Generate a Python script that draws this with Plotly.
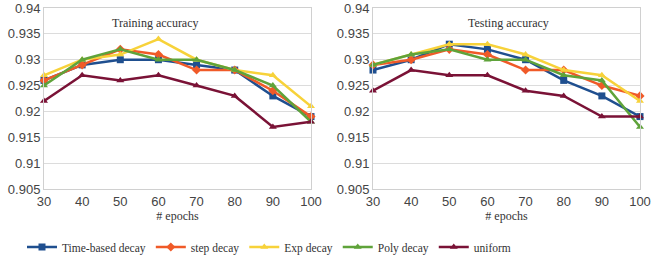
import plotly.graph_objects as go

epochs = [30, 40, 50, 60, 70, 80, 90, 100]
series_names = ["Time-based decay", "step decay", "Exp decay", "Poly decay", "uniform"]

train_time = [0.926, 0.929, 0.930, 0.930, 0.929, 0.928, 0.923, 0.919]
train_step = [0.926, 0.929, 0.932, 0.931, 0.928, 0.928, 0.924, 0.919]
train_exp = [0.927, 0.930, 0.931, 0.934, 0.930, 0.928, 0.927, 0.921]
train_poly = [0.925, 0.930, 0.932, 0.930, 0.930, 0.928, 0.925, 0.918]
train_uniform = [0.922, 0.927, 0.926, 0.927, 0.925, 0.923, 0.917, 0.918]

test_time = [0.928, 0.930, 0.933, 0.932, 0.930, 0.926, 0.923, 0.919]
test_step = [0.929, 0.930, 0.932, 0.931, 0.928, 0.928, 0.925, 0.923]
test_exp = [0.929, 0.931, 0.933, 0.933, 0.931, 0.928, 0.927, 0.922]
test_poly = [0.929, 0.931, 0.932, 0.930, 0.930, 0.927, 0.926, 0.917]
test_uniform = [0.924, 0.928, 0.927, 0.927, 0.924, 0.923, 0.919, 0.919]

y_ticks = [0.905, 0.91, 0.915, 0.92, 0.925, 0.93, 0.935, 0.94]
y_ticklabels = ["0.905", "0.91", "0.915", "0.92", "0.925", "0.93", "0.935", "0.94"]

colors = ["#1f4f8f", "#f05a28", "#f7d23a", "#5fa33a", "#7a1236"]
symbols = ["square", "diamond", "triangle-up", "triangle-up", "triangle-up"]

train = [train_time, train_step, train_exp, train_poly, train_uniform]
test = [test_time, test_step, test_exp, test_poly, test_uniform]

fig = go.Figure()
for i, name in enumerate(series_names):
    fig.add_trace(go.Scatter(x=epochs, y=train[i], name=name, mode="lines+markers",
                             line=dict(color=colors[i], width=2.5),
                             marker=dict(symbol=symbols[i], size=7, color=colors[i]),
                             xaxis="x", yaxis="y", legendgroup=name, cliponaxis=False))
for i, name in enumerate(series_names):
    fig.add_trace(go.Scatter(x=epochs, y=test[i], name=name, mode="lines+markers",
                             line=dict(color=colors[i], width=2.5),
                             marker=dict(symbol=symbols[i], size=7, color=colors[i]),
                             xaxis="x2", yaxis="y2", legendgroup=name, showlegend=False,
                             cliponaxis=False))

W, H = 651, 262
ybot = 1 - 189 / H
ytop = 1 - 8 / H
tickfont = dict(family="Liberation Sans, Arial, sans-serif", size=13, color="#444")
serif = "Liberation Serif, Times New Roman, serif"

axis_common = dict(showgrid=True, gridcolor="#dcdcdc", gridwidth=1, showline=True,
                   linecolor="#d0d0d0", linewidth=1, mirror=True, zeroline=False,
                   tickfont=tickfont, ticks="", automargin=False)
xcommon = dict(axis_common, range=[30, 100], tickvals=epochs, showgrid=False,
               title=dict(text="# epochs", font=dict(family=serif, size=12, color="#333"), standoff=1))
ycommon = dict(axis_common, range=[0.905, 0.94], tickvals=y_ticks, ticktext=y_ticklabels)

fig.update_layout(
    width=W, height=H,
    margin=dict(l=0, r=0, t=0, b=0, autoexpand=False),
    paper_bgcolor="white", plot_bgcolor="white",
    xaxis=dict(xcommon, domain=[44 / W, 311 / W], anchor="y"),
    yaxis=dict(ycommon, domain=[ybot, ytop], anchor="x"),
    xaxis2=dict(xcommon, domain=[373 / W, 640 / W], anchor="y2"),
    yaxis2=dict(ycommon, domain=[ybot, ytop], anchor="x2"),
    legend=dict(orientation="h", x=22 / W, xanchor="left", y=1 - 247 / H, yanchor="middle",
                font=dict(family=serif, size=11.5, color="#333"), itemwidth=30,
                traceorder="normal"),
    annotations=[
        dict(text="Training accuracy", x=155 / W, y=1 - 23 / H, xref="paper", yref="paper",
             xanchor="center", yanchor="middle",
             showarrow=False, font=dict(family=serif, size=12, color="#333")),
        dict(text="Testing accuracy", x=508 / W, y=1 - 23 / H, xref="paper", yref="paper",
             xanchor="center", yanchor="middle",
             showarrow=False, font=dict(family=serif, size=12, color="#333")),
    ],
)

fig.write_html("out.html", config={"displayModeBar": False},
               post_script="document.body.style.margin='0px';")
